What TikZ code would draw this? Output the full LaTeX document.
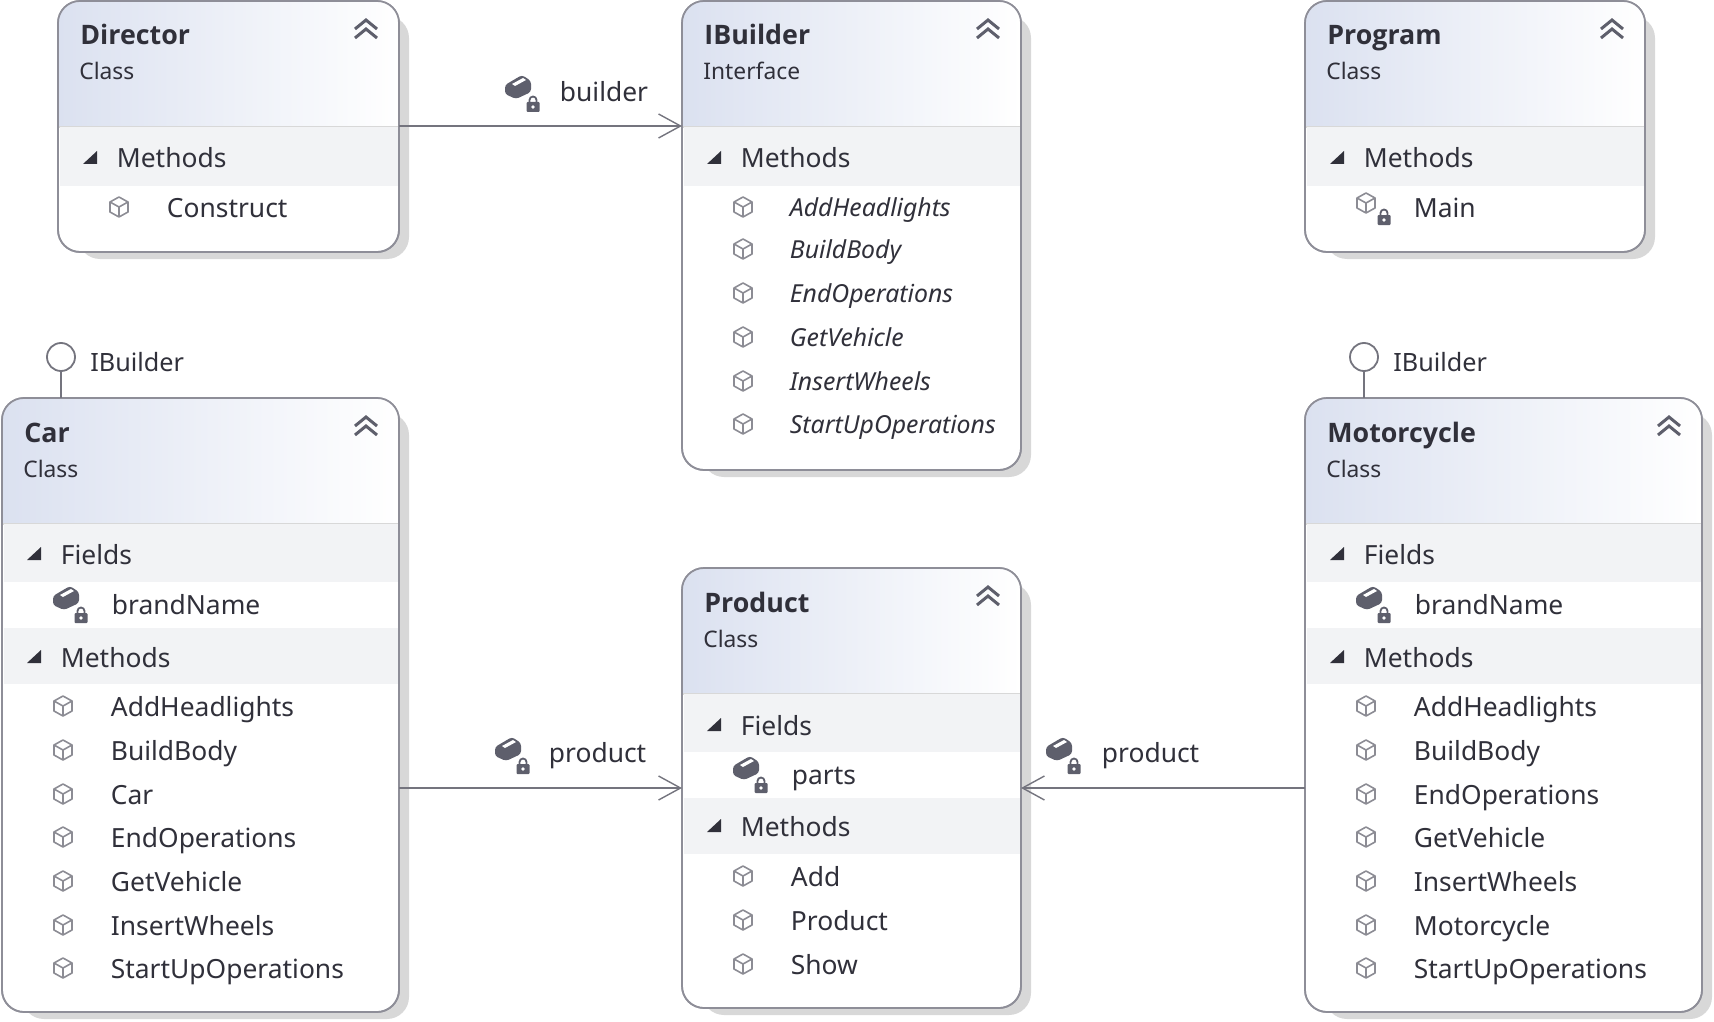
\documentclass[tikz,border=0pt]{standalone}
\usepackage{fontspec}
\setmainfont{Noto Sans}
\newfontfamily\ttlfont{Open Sans}
\usetikzlibrary{arrows.meta}
\definecolor{bordercol}{HTML}{8E8E98}
\definecolor{shadowcol}{HTML}{D8D8D8}
\definecolor{bandcol}{HTML}{F2F3F5}
\definecolor{headblue}{HTML}{DBE1F0}
\definecolor{headmid}{HTML}{E9ECF4}
\definecolor{inkcol}{HTML}{30303A}
\definecolor{iconcol}{HTML}{5E5F6C}
\definecolor{thincol}{HTML}{8C8C94}
\definecolor{linecol}{HTML}{74747E}
\tikzset{
  classnode/.style={rectangle,draw=bordercol,line width=0.85pt,fill=white,rounded corners=11pt,inner sep=0pt,outer sep=0pt},
  titletxt/.style={anchor=base west,inner sep=0pt,text=inkcol,font=\ttlfont\bfseries\fontsize{13.4}{16}\selectfont},
  subtxt/.style={anchor=base west,inner sep=0pt,text=inkcol,font=\fontsize{11.4}{14}\selectfont},
  itemtxt/.style={anchor=base west,inner sep=0pt,text=inkcol,font=\fontsize{13.2}{16}\selectfont},
  absitem/.style={itemtxt,font=\fontsize{12.4}{16}\selectfont\itshape},
  conn/.style={draw=linecol,line width=0.9pt,-{Straight Barb[length=11pt,width=12pt,line width=0.7pt]}},
  lolli/.style={draw=linecol,line width=0.9pt},
}
% class box: id, L, T, R, B, title, subtitle
\newcommand\classbox[7]{%
  \pgfmathsetmacro\bw{(#4-#2)*0.5}%
  \pgfmathsetmacro\bh{(#5-#3)*0.5}%
  \pgfmathsetmacro\bcx{(#2+#4)/2}%
  \pgfmathsetmacro\bcy{(#3+#5)/2}%
  \def\curL{#2}\def\curR{#4}\def\curId{#1}%
  \fill[shadowcol,rounded corners=11pt] (#2+20,#3+15) rectangle (#4+10,#5+7);
  \node[classnode,minimum width=\bw pt,minimum height=\bh pt] (#1) at (\bcx,\bcy) {};
  \begin{scope}
    \clip[rounded corners=11pt] (#2,#3) rectangle (#4,#5);
    \shade[left color=headblue,middle color=headmid,right color=white] (#2,#3) rectangle (#4,#3+126);
  \end{scope}
  \draw[draw=shadowcol,line width=0.8pt] (#2+1,#3+126) -- (#4-1,#3+126);
  \draw[bordercol,line width=0.85pt,rounded corners=11pt] (#2,#3) rectangle (#4,#5);
  \node[titletxt] (#1-title) at (#2+22,#3+44) {#6};
  \node[subtxt] (#1-sub) at (#2+21,#3+79) {#7};
  \draw[iconcol,line width=1.5pt,line join=miter] (#4-44,#3+28) -- (#4-33,#3+19) -- (#4-22,#3+28);
  \draw[iconcol,line width=1.5pt,line join=miter] (#4-44,#3+37) -- (#4-33,#3+28) -- (#4-22,#3+37);
}
% section band: top, bottom, centre y, label
\newcommand\secband[4]{%
  \fill[bandcol] (\curL+1.5,#1) rectangle (\curR-1.5,#2);
  \fill[inkcol] (\curL+25,#3+7) -- (\curL+39,#3+7) -- (\curL+39,#3-6) -- cycle;
  \node[itemtxt] (\curId-#3) at (\curL+58.5,#3+11) {#4};
}
\newcommand\cubeicon[2]{%
  \draw[thincol,line width=0.8pt,line join=round]
    (#1,#2-10) -- (#1+9,#2-5) -- (#1+9,#2+5) -- (#1,#2+10) -- (#1-9,#2+5) -- (#1-9,#2-5) -- cycle
    (#1-9,#2-5) -- (#1,#2) -- (#1+9,#2-5) (#1,#2) -- (#1,#2+10);
}
\newcommand\lockicon[2]{%
  \fill[iconcol,rounded corners=0.5pt] (#1-6.5,#2-2) rectangle (#1+6.5,#2+8);
  \draw[iconcol,line width=0.9pt] (#1-3.5,#2-2) -- (#1-3.5,#2-4) arc[start angle=180,end angle=0,x radius=3.5,y radius=-3.5] -- (#1+3.5,#2-2);
  \fill[white] (#1,#2+3) circle[radius=1.8];
}
% private field icon at centre x,y
\newcommand\fieldicon[2]{%
  \fill[iconcol,rounded corners=1.5pt] (#1-13,#2-2) -- (#1+4,#2-12) -- (#1+13,#2-6) -- (#1+13,#2+5) -- (#1-2,#2+12) -- (#1-13,#2+7) -- cycle;
  \fill[white] (#1-6,#2-3) -- (#1+5,#2-9) -- (#1+8,#2-7) -- (#1-3,#2-1) -- cycle;
  \lockicon{#1+15}{#2+17}
}
\newcommand\meth[3]{% id suffix, y, text
  \cubeicon{\curL+61}{#2-1}
  \node[itemtxt] (\curId-#1) at (\curL+108.5,#2+9.5) {#3};
}
\newcommand\absm[3]{%
  \cubeicon{\curL+61}{#2-1}
  \node[absitem] (\curId-#1) at (\curL+107.5,#2+8.5) {#3};
}
\newcommand\privf[3]{%
  \fieldicon{\curL+64}{#2-7}
  \node[itemtxt] (\curId-#1) at (\curL+109.5,#2+9.5) {#3};
}
\begin{document}
\begin{tikzpicture}[x=0.5pt,y=-0.5pt]
\useasboundingbox (0,0) rectangle (1714,1022);

% Director
\classbox{director}{58}{1}{399}{252}{Director}{Class}
\secband{127}{186}{157}{Methods}
\meth{a}{208}{Construct}

% IBuilder
\classbox{ibuilder}{682}{1}{1021}{470}{IBuilder}{Interface}
\secband{127}{186}{157}{Methods}
\absm{a}{208}{AddHeadlights}
\absm{b}{250}{BuildBody}
\absm{c}{294}{EndOperations}
\absm{d}{338}{GetVehicle}
\absm{e}{382}{InsertWheels}
\absm{f}{425}{StartUpOperations}

% Program
\classbox{program}{1305}{1}{1645}{252}{Program}{Class}
\secband{127}{186}{157}{Methods}
\cubeicon{\curL+61}{203}
\lockicon{\curL+79}{217}
\node[itemtxt] (program-a) at (\curL+108.5,217.5) {Main};

% Car
\classbox{car}{2}{398}{399}{1012}{Car}{Class}
\secband{524}{582}{553}{Fields}
\privf{a}{605}{brandName}
\secband{628}{684}{656}{Methods}
\meth{b}{707}{AddHeadlights}
\meth{c}{751}{BuildBody}
\meth{d}{795}{Car}
\meth{e}{838}{EndOperations}
\meth{f}{882}{GetVehicle}
\meth{g}{926}{InsertWheels}
\meth{h}{969}{StartUpOperations}

% Product
\classbox{product}{682}{568}{1021}{1008}{Product}{Class}
\secband{694}{752}{724}{Fields}
\privf{a}{775}{parts}
\secband{798}{854}{825}{Methods}
\meth{b}{877}{Add}
\meth{c}{921}{Product}
\meth{d}{965}{Show}

% Motorcycle
\classbox{moto}{1305}{398}{1702}{1012}{Motorcycle}{Class}
\secband{524}{582}{553}{Fields}
\privf{a}{605}{brandName}
\secband{628}{684}{656}{Methods}
\meth{b}{707}{AddHeadlights}
\meth{c}{751}{BuildBody}
\meth{d}{795}{EndOperations}
\meth{e}{838}{GetVehicle}
\meth{f}{882}{InsertWheels}
\meth{g}{926}{Motorcycle}
\meth{h}{969}{StartUpOperations}

% Lollipops
\node[circle,draw=linecol,line width=0.9pt,minimum size=14pt,inner sep=0pt,outer sep=0pt] (carLolli) at (61,357) {};
\node[circle,draw=linecol,line width=0.9pt,minimum size=14pt,inner sep=0pt,outer sep=0pt] (motoLolli) at (1364,357) {};
\draw[lolli] (carLolli.south) -- (carLolli.south |- car.north);
\draw[lolli] (motoLolli.south) -- (motoLolli.south |- moto.north);
\node[itemtxt,font=\fontsize{12.6}{16}\selectfont] (carLolliLabel) at (90,371) {IBuilder};
\node[itemtxt,font=\fontsize{12.6}{16}\selectfont] (motoLolliLabel) at (1393,371) {IBuilder};

% Connectors
\coordinate (startBuilder) at (399,126);
\coordinate (startCarProd) at (399,788);
\coordinate (startMotoProd) at (1305,788);
\draw[conn] (startBuilder) -- (startBuilder -| ibuilder.west);
\draw[conn] (startCarProd) -- (startCarProd -| product.west);
\draw[conn] (startMotoProd) -- (startMotoProd -| product.east);

% Connector labels
\fieldicon{518}{87}
\node[itemtxt] (builderLabel) at (559.5,101.5) {builder};
\fieldicon{508}{749}
\node[itemtxt] (carProdLabel) at (548.5,762.5) {product};
\fieldicon{1059}{749}
\node[itemtxt] (motoProdLabel) at (1101.5,762.5) {product};
\end{tikzpicture}
\end{document}
